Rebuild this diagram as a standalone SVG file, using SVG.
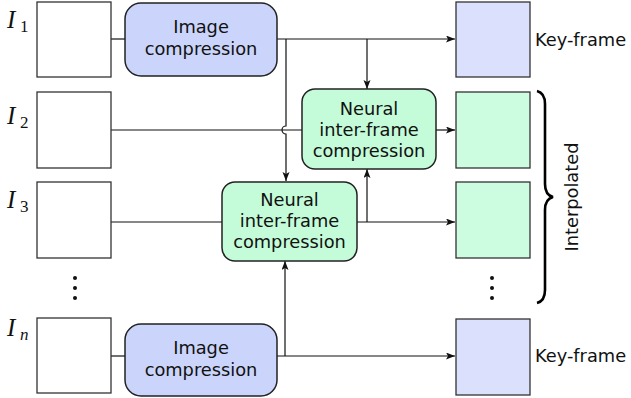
<svg xmlns="http://www.w3.org/2000/svg" width="631" height="398" viewBox="0 0 631 398">
<style>
.frame{stroke:#333;stroke-width:1.3}
.white{fill:#fff}
.key{fill:#dbe0fc}
.interp{fill:#cdfde0}
.imgc{fill:#cbd5fb;stroke:#222;stroke-width:1.5}
.nic{fill:#c4fcd9;stroke:#222;stroke-width:1.5}
.lbl{font-family:"DejaVu Sans",sans-serif;font-size:17.8px;fill:#111;text-anchor:middle}
.side{font-family:"DejaVu Sans",sans-serif;font-size:17.8px;fill:#111}
.ivar{font-family:"Liberation Serif",serif;font-style:italic;font-size:25px;fill:#111}
.sub{font-family:"Liberation Serif",serif;font-size:17px;fill:#111}
.ln{fill:none;stroke:#111;stroke-width:1.2}
.arr{marker-end:url(#ah)}
</style>
<defs>
<marker id="ah" markerUnits="userSpaceOnUse" markerWidth="10" markerHeight="8" refX="9" refY="3.5" orient="auto">
<path d="M0,0 L9,3.5 L0,7 L2,3.5 z" fill="#111"/>
</marker>
</defs>
<g id="connectors">
<path class="ln" d="M111,39 H125"/>
<path class="ln arr" d="M277,39 H455"/>
<path class="ln arr" d="M286,39 V126 A4,4 0 0 0 286,134 V181"/>
<path class="ln arr" d="M367,39 V89"/>
<path class="ln" d="M111,130 H302"/>
<path class="ln arr" d="M436,130 H455"/>
<path class="ln" d="M111,222 H222"/>
<path class="ln arr" d="M357,222 H455"/>
<path class="ln arr" d="M367,222 V169"/>
<path class="ln" d="M111,356 H125"/>
<path class="ln arr" d="M277,356 H455"/>
<path class="ln arr" d="M285,356 V261"/>
</g>
<g id="I1"><rect class="frame white" x="37" y="2" width="74" height="75"/><text class="ivar" x="7" y="28">I</text><text class="sub" x="20" y="32">1</text></g>
<g id="I2"><rect class="frame white" x="37" y="92" width="74" height="76"/><text class="ivar" x="7" y="124">I</text><text class="sub" x="20" y="128">2</text></g>
<g id="I3"><rect class="frame white" x="37" y="182" width="74" height="76"/><text class="ivar" x="7" y="208">I</text><text class="sub" x="20" y="212">3</text></g>
<g id="In"><rect class="frame white" x="37" y="318" width="74" height="75"/><text class="ivar" x="7" y="336">I</text><text class="sub" x="20" y="340" font-style="italic">n</text></g>
<g id="dots-left" fill="#111"><circle cx="75" cy="278" r="2"/><circle cx="75" cy="288" r="2"/><circle cx="75" cy="298" r="2"/></g>
<g id="imgc1"><rect class="imgc" x="125" y="3" width="152" height="73" rx="16"/><text class="lbl" x="201" y="33">Image</text><text class="lbl" x="201" y="55">compression</text></g>
<g id="imgcn"><rect class="imgc" x="125" y="324" width="152" height="72" rx="16"/><text class="lbl" x="201" y="354">Image</text><text class="lbl" x="201" y="376">compression</text></g>
<g id="nic1"><rect class="nic" x="302" y="89" width="134" height="80" rx="13"/><text class="lbl" x="369" y="115">Neural</text><text class="lbl" x="369" y="136">inter-frame</text><text class="lbl" x="369" y="157">compression</text></g>
<g id="nic2"><rect class="nic" x="222" y="182" width="135" height="79" rx="13"/><text class="lbl" x="289.5" y="206">Neural</text><text class="lbl" x="289.5" y="227">inter-frame</text><text class="lbl" x="289.5" y="248">compression</text></g>
<g id="K1"><rect class="frame key" x="456" y="2" width="74" height="75"/><text class="side" x="535" y="46">Key-frame</text></g>
<g id="O2"><rect class="frame interp" x="456" y="92" width="74" height="76"/></g>
<g id="O3"><rect class="frame interp" x="456" y="182" width="74" height="76"/></g>
<g id="dots-right" fill="#111"><circle cx="492" cy="278" r="2"/><circle cx="492" cy="288" r="2"/><circle cx="492" cy="298" r="2"/></g>
<g id="Kn"><rect class="frame key" x="456" y="319" width="74" height="76"/><text class="side" x="535" y="362">Key-frame</text></g>
<g id="brace"><path d="M537,91 Q545,93 545,104 V184 Q545,195 553,197 Q545,199 545,210 V290 Q545,301 537,303" fill="none" stroke="#000" stroke-width="2.6"/><text class="side" transform="translate(578,197) rotate(-90)" text-anchor="middle">Interpolated</text></g>
</svg>
